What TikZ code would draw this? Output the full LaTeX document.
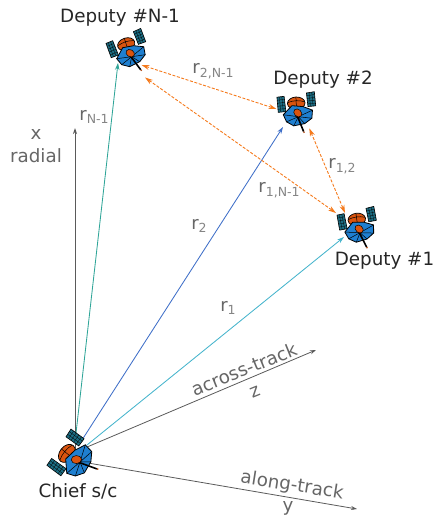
\documentclass[tikz,border=0pt]{standalone}
\usepackage{fontspec}
\setmainfont{DejaVu Sans}
\usetikzlibrary{arrows.meta,calc}
\definecolor{dishblue}{HTML}{1F7FD0}
\definecolor{domeorange}{HTML}{D9540F}
\definecolor{panelteal}{HTML}{1C6E84}
\definecolor{axisgray}{HTML}{5A5A5A}
\definecolor{labelgray}{HTML}{666666}
\definecolor{subgray}{HTML}{858585}
\definecolor{teal1}{HTML}{2FA598}
\definecolor{blue1}{HTML}{3F6FC8}
\definecolor{cyan1}{HTML}{45B4CC}
\definecolor{rangeorange}{HTML}{F57A1C}
\newcommand{\rsym}[1]{{\fontsize{18}{20}\selectfont r}\raisebox{-3.5pt}{\fontsize{12.5}{14}\selectfont\color{subgray} #1}}
% A solar panel: outline through four corners, with its cell grid
\newcommand{\solarpanel}[4]{%
  \draw[panelpart] #1 -- #2 -- #3 -- #4 -- cycle;
  \foreach \t in {0.2,0.4,0.6,0.8}
    \draw[black,line width=0.3pt] ($#1!\t!#4$) -- ($#2!\t!#3$);
  \foreach \t in {0.33,0.67}
    \draw[black,line width=0.3pt] ($#1!\t!#2$) -- ($#4!\t!#3$);
}
\tikzset{
  x=1pt,y=-1pt,
  axisline/.style={axisgray,line width=0.8pt,-{Stealth[length=6pt,width=4pt]}},
  posline/.style={line width=0.85pt,-{Stealth[length=7pt,width=4.5pt]}},
  rangeline/.style={rangeorange,dash pattern=on 3pt off 1.6pt,line width=0.9pt,{Stealth[length=8pt,width=5pt]}-{Stealth[length=8pt,width=5pt]}},
  craftname/.style={font=\fontsize{18.3}{20}\selectfont,text=black!85,inner sep=0pt},
  axisname/.style={font=\fontsize{18.3}{20}\selectfont,text=labelgray,inner sep=0pt},
  rangename/.style={text=labelgray,inner sep=0pt},
  panelpart/.style={fill=panelteal,draw=black,line width=0.6pt},
  sat/.pic={
    % solar panels
    \solarpanel{(-25.7,-13.3)}{(-19,-16)}{(-13.3,-1.7)}{(-20.5,1)}
    \solarpanel{(1.7,-25)}{(9,-28.3)}{(14,-15)}{(6.7,-12.3)}
    % body dome
    \draw[shift={(-5.5,-12.5)},rotate=18,fill=domeorange,draw=black,line width=0.7pt] (0,0) ellipse [x radius=8.8,y radius=6.2];
    \draw[shift={(-5.5,-12.5)},rotate=18,black,line width=0.5pt] (-8.5,-1) .. controls (-3,-3) and (3,-3) .. (8.5,-1)
      (0,-6.2) -- (0,6.2);
    % dish
    \draw[fill=dishblue,draw=black,line width=0.8pt] (-15,2) -- (-9,-9) -- (2,-11) -- (12,-10) -- (13.5,-2) -- (8,5) -- (-2,10) -- (-10,8) -- cycle;
    \draw[black,line width=0.5pt] (0,0) -- (-15,2) (0,0) -- (-10,8) (0,0) -- (-2,10) (0,0) -- (8,5) (0,0) -- (13.5,-2) (0,0) -- (12,-10);
    % feed boom
    \draw[black,line width=1.6pt] (-3,-3) -- (9,13);
    \fill[domeorange!80!black] (9.5,13.5) circle (0.9);
    \draw[shift={(-1.5,-3.5)},rotate=-30,fill=domeorange,draw=black,line width=0.5pt] (0,0) ellipse [x radius=4.5,y radius=3.5];
  },
}
\begin{document}
\begin{tikzpicture}
\useasboundingbox (0,0) rectangle (433,516);
\coordinate (chiefcore) at (75,455);
\coordinate (xtip) at (75,128);
\coordinate (ztail) at (80,450);
\coordinate (ztip) at (316,350);
\coordinate (ytail) at (88,463);
\coordinate (ytip) at (357,509);
\coordinate (chiefA) at (75,442);
\coordinate (chiefB) at (82,440);
\coordinate (chiefC) at (87,445);
\coordinate (farA) at (118,63);
\coordinate (twoA) at (283,127);
\coordinate (oneA) at (344,237);
\coordinate (farB) at (141.5,65);
\coordinate (twoB) at (276.5,109);
\coordinate (farC) at (145,77.5);
\coordinate (oneC) at (336,213);
\coordinate (twoD) at (309.3,128.3);
\coordinate (oneD) at (345,213);
% frame axes
\draw[axisline] (chiefcore) -- (xtip);
\draw[axisline] (ztail) -- (ztip);
\draw[axisline] (ytail) -- (ytip);
% relative position vectors
\draw[posline,teal1] (chiefA) -- (farA);
\draw[posline,blue1] (chiefB) -- (twoA);
\draw[posline,cyan1] (chiefC) -- (oneA);
% inter-deputy ranges
\draw[rangeline] (farB) -- (twoB);
\draw[rangeline] (farC) -- (oneC);
\draw[rangeline] (twoD) -- (oneD);
% spacecraft
\pic at (131.7,56.7) {sat};
\pic[rotate=-15] at (298.3,116.7) {sat};
\pic[rotate=-10] at (360,232.7) {sat};
\pic[rotate=33,scale=1.15] at (80,462) {sat};
% names
\node[craftname] (nfar) at (120,18) {Deputy \#N-1};
\node[craftname] (ntwo) at (323,80) {Deputy \#2};
\node[craftname] (none) at (384.5,261) {Deputy \#1};
\node[craftname] (nchief) at (78,491) {Chief s/c};
% axis names
\node[axisname] (ax) at (36,134) {x};
\node[axisname] (arad) at (36,156) {radial};
\node[axisname,rotate=22] (aacr) at (244,369) {across-track};
\node[axisname,rotate=22] (az) at (255,392) {z};
\node[axisname,rotate=-9] (aalo) at (292,486) {along-track};
\node[axisname] (ay) at (288,508) {y};
% vector and range labels
\node[rangename] (lfar) at (94,117) {\rsym{N-1}};
\node[rangename] (ltwo) at (199,226) {\rsym{2}};
\node[rangename] (lone) at (228,308) {\rsym{1}};
\node[rangename] (lfartwo) at (213,71) {\rsym{2,N-1}};
\node[rangename] (lonetwo) at (342,166) {\rsym{1,2}};
\node[rangename] (lonefar) at (279,190) {\rsym{1,N-1}};
\end{tikzpicture}
\end{document}
